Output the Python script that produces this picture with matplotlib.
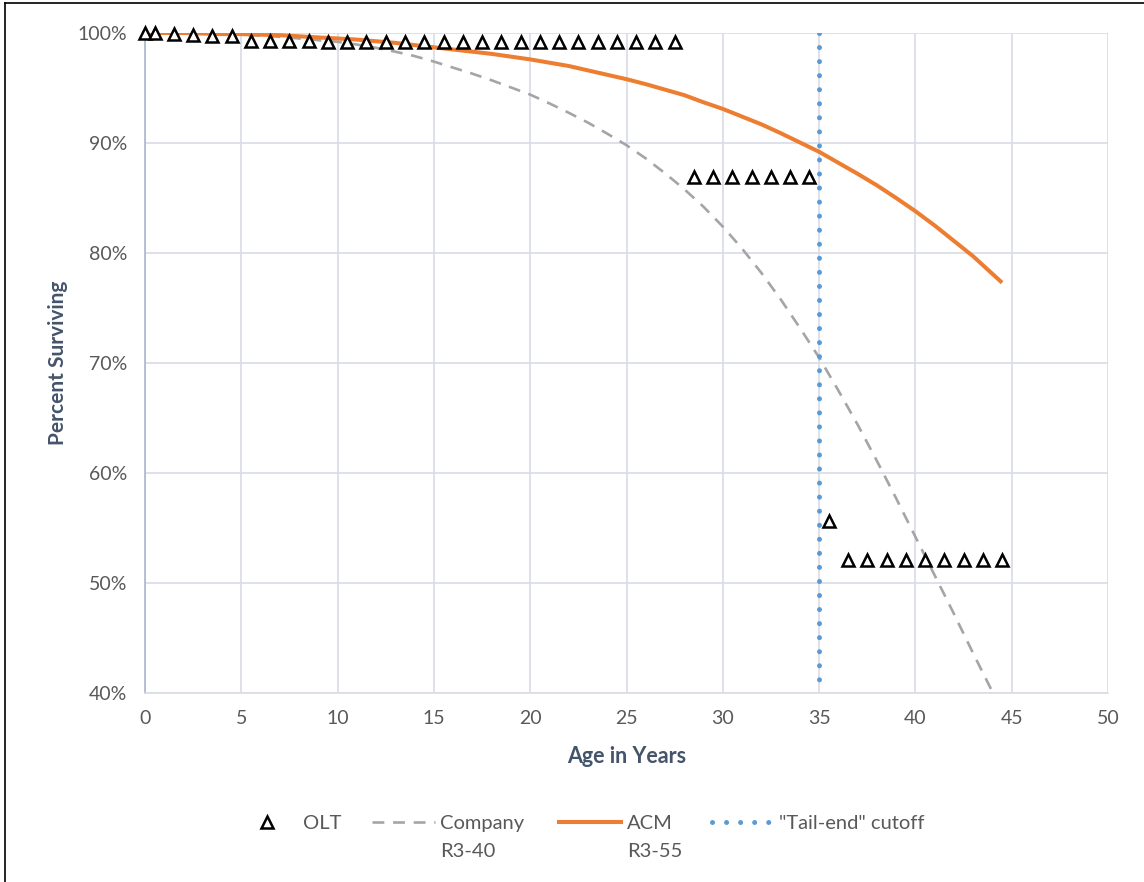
import numpy as np
import matplotlib.pyplot as plt
from matplotlib.lines import Line2D
from matplotlib.ticker import FuncFormatter

# Observed life table points (age, percent surviving)
olt_age = [0, 0.5] + [i + 0.5 for i in range(1, 28)] + [i + 0.5 for i in range(28, 35)] + [35.5] + [i + 0.5 for i in range(36, 45)]
olt_pct = ([100.0, 100.0, 99.9, 99.8, 99.7, 99.7, 99.3, 99.3, 99.3, 99.3, 99.2, 99.2, 99.2, 99.2, 99.2,
            99.2, 99.2, 99.2, 99.2, 99.2, 99.2, 99.2, 99.2, 99.2, 99.2, 99.2, 99.2, 99.2, 99.2]
           + [86.9] * 7 + [55.6] + [52.1] * 9)

# Company R3-40 curve (yearly)
company_age = list(range(0, 46))
company_pct = [100, 100, 100, 99.95, 99.9, 99.85, 99.75, 99.65, 99.5, 99.35,
               99.2, 98.95, 98.65, 98.3, 97.9, 97.4, 96.85, 96.3, 95.7, 95.05,
               94.4, 93.6, 92.75, 91.85, 90.85, 89.8, 88.6, 87.25, 85.8, 84.2,
               82.4, 80.4, 78.2, 75.8, 73.2, 70.5, 67.5, 64.4, 61.1, 57.7,
               54.2, 50.7, 47.2, 43.6, 40.1, 36.5]

# ACM R3-55 curve (yearly)
acm_age = list(range(0, 45)) + [44.5]
acm_pct = [100, 100, 100, 99.95, 99.9, 99.9, 99.85, 99.8, 99.7, 99.6,
           99.5, 99.4, 99.25, 99.1, 98.9, 98.7, 98.5, 98.3, 98.1, 97.85,
           97.6, 97.3, 97.0, 96.6, 96.2, 95.8, 95.35, 94.85, 94.35, 93.7,
           93.1, 92.4, 91.7, 90.9, 90.05, 89.2, 88.2, 87.2, 86.15, 85.0,
           83.8, 82.5, 81.1, 79.7, 78.1, 77.3]

cutoff_age = 35

legend_labels = ['OLT', 'Company', 'ACM', '"Tail-end" cutoff']
legend_sublabels = [None, 'R3-40', 'R3-55', None]

plt.rcParams['font.family'] = ['Lato', 'DejaVu Sans']
tick_color = '#595959'
label_color = '#44546a'
grid_color = '#d9dce6'

fig = plt.figure(figsize=(11.44, 8.82), dpi=100)
ax = fig.add_axes([145 / 1144, 1 - 693 / 882, (1108 - 145) / 1144, (693 - 33) / 882])

h_olt, = ax.plot(olt_age, olt_pct, linestyle='none', marker='^', markersize=9,
                 markerfacecolor='white', markeredgecolor='black', markeredgewidth=1.8,
                 zorder=5, clip_on=False)
h_comp, = ax.plot(company_age, company_pct, color='#a5a5a5', lw=1.9, dashes=(4.5, 3.3), zorder=3)
h_acm, = ax.plot(acm_age, acm_pct, color='#ed7d31', lw=2.9, solid_capstyle='butt', zorder=4)
# drawn top-down so the dot pattern starts at 100%
h_cut = ax.axvline(cutoff_age, ymin=1, ymax=0, color='#5b9bd5', lw=3.6,
                   linestyle=(0, (0.01, 2.8)), dash_capstyle='round', zorder=3)

ax.set_xlim(0, 50)
ax.set_ylim(40, 100)
ax.set_xticks(range(0, 51, 5))
ax.set_yticks(range(40, 101, 10))
ax.yaxis.set_major_formatter(FuncFormatter(lambda v, p: f"{v:.0f}%"))
ax.grid(True, color=grid_color, lw=1.2)
ax.set_axisbelow(True)
for s in ['top', 'right']:
    ax.spines[s].set_visible(False)
ax.spines['bottom'].set_color(grid_color)
ax.spines['bottom'].set_linewidth(1.2)
ax.spines['left'].set_color('#a9b6cc')
ax.spines['left'].set_linewidth(1.2)
ax.tick_params(length=0, labelsize=14, labelcolor=tick_color)
ax.tick_params(axis='x', pad=12)
ax.tick_params(axis='y', pad=13)

ax.set_xlabel('Age in Years', fontsize=15.5, fontweight='bold', color=label_color, labelpad=14)
ax.set_ylabel('Percent Surviving', fontsize=15, fontweight='bold', color=label_color, labelpad=7)

# legend: one entry per legend so each handle can have its own length (Excel style)
W, H = 1144, 882
handles = [h_olt, h_comp, h_acm, h_cut]
entry_x = [252, 372, 557, 712]          # left edge of each handle, pixels
handle_len = [1.5, 3.13, 3.28, 2.84]
text_pad = [1.05, 0.25, 0.2, 0.5]
legs = []
for h, lab, x, hl, tp in zip(handles, legend_labels, entry_x, handle_len, text_pad):
    lg = fig.legend([h], [lab], loc='center left', bbox_to_anchor=(x / W, 1 - 823 / H),
                    frameon=False, fontsize=14.5, labelcolor=tick_color, handlelength=hl,
                    handletextpad=tp, borderpad=0, borderaxespad=0)
    legs.append(lg)

fig.canvas.draw()
inv = fig.transFigure.inverted()
for lg, sub in zip(legs, legend_sublabels):
    if sub is None:
        continue
    bb = lg.get_texts()[0].get_window_extent()
    x0, y0 = inv.transform((bb.x0, bb.y0))
    fig.text(x0, y0 - 0.013, sub, fontsize=14.5, color=tick_color, ha='left', va='top')

# thin border on top and left like the screenshot
fig.add_artist(Line2D([0.004, 1], [0.9966, 0.9966], color='black', lw=1.2))
fig.add_artist(Line2D([0.0045, 0.0045], [0, 0.9966], color='black', lw=1.2))

fig.savefig('out.png', dpi=100)
